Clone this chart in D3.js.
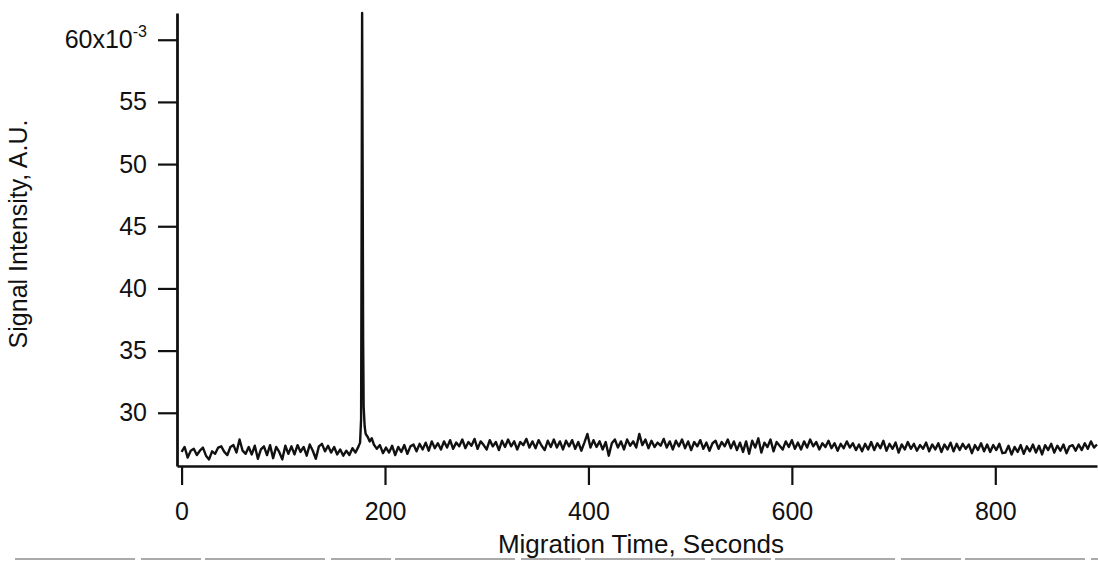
<!DOCTYPE html>
<html>
<head>
<meta charset="utf-8">
<script src="https://cdn.jsdelivr.net/npm/d3@7"></script>
<style>
  html, body { margin: 0; padding: 0; background: #fff; }
  svg { display: block; }
  text { font-family: "Liberation Sans", Arial, Helvetica, sans-serif; fill: #111; }
</style>
</head>
<body>
<svg id="chart" width="1098" height="561"></svg>
<script>
// Migration time (s)
const times = [
0,3,6,9,12,15,18,21,24,27,30,33,36,39,42,45,48,51,54,57,60,63,66,69,72,75,78,81,84,87,90,93,96,99,
102,105,108,111,114,117,120,123,126,129,132,135,138,141,144,147,150,153,156,159,162,165,168,171,174,
175.5,176.5,177,177.5,178,178.5,179,180,181,183,185,187,189,
192,195,198,201,204,207,210,213,216,219,222,225,228,231,234,237,240,243,246,249,
252,255,258,261,264,267,270,273,276,279,282,285,288,291,294,297,300,303,306,309,
312,315,318,321,324,327,330,333,336,339,342,345,348,351,354,357,360,363,366,369,
372,375,378,381,384,387,390,393,396,399,402,405,408,411,414,417,420,423,426,429,
432,435,438,441,444,447,450,453,456,459,462,465,468,471,474,477,480,483,486,489,
492,495,498,501,504,507,510,513,516,519,522,525,528,531,534,537,540,543,546,549,
552,555,558,561,564,567,570,573,576,579,582,585,588,591,594,597,600,603,606,609,
612,615,618,621,624,627,630,633,636,639,642,645,648,651,654,657,660,663,666,669,
672,675,678,681,684,687,690,693,696,699,702,705,708,711,714,717,720,723,726,729,
732,735,738,741,744,747,750,753,756,759,762,765,768,771,774,777,780,783,786,789,
792,795,798,801,804,807,810,813,816,819,822,825,828,831,834,837,840,843,846,849,
852,855,858,861,864,867,870,873,876,879,882,885,888,891,894,897,900
];
// Signal intensity (x10^-3 A.U.)
const signal = [
26.85,27.25,26.40,26.95,27.10,26.60,26.95,27.20,26.55,26.25,26.90,26.70,27.20,27.30,26.85,26.60,27.25,27.40,26.80,27.85,26.95,26.70,27.25,26.65,27.35,26.30,27.05,27.30,26.60,27.40,26.35,27.25,26.85,26.25,
27.35,26.70,27.30,26.65,27.40,26.85,27.25,26.55,27.45,26.95,26.30,27.30,27.50,26.90,27.35,26.80,27.25,26.65,27.05,26.55,26.95,26.60,27.15,26.80,27.30,
27.60,29.50,45.00,62.15,50.00,36.00,30.50,28.90,28.30,28.05,27.70,27.95,27.45,
27.10,27.40,26.75,27.20,26.80,27.35,26.60,27.25,26.85,27.40,26.70,27.30,27.45,26.90,27.50,27.05,27.60,26.95,27.70,27.15,
27.55,27.05,27.70,27.20,27.80,27.10,27.60,27.30,27.85,27.15,27.65,27.35,27.90,27.10,27.70,27.40,27.05,27.80,27.30,27.65,
27.00,27.75,27.25,27.85,27.30,27.70,27.05,27.65,27.40,27.90,27.20,27.70,27.15,27.80,27.35,27.00,27.75,27.25,27.85,27.20,
27.70,27.05,27.75,27.30,27.80,27.10,27.65,26.95,27.60,28.30,27.20,27.80,27.25,27.70,27.05,27.65,26.55,27.55,27.85,27.20,
27.70,27.05,27.85,27.35,27.70,27.20,28.30,27.40,27.85,27.15,27.75,27.25,27.60,27.35,27.90,27.20,27.70,27.05,27.75,27.30,
27.85,27.15,27.70,27.00,27.65,27.30,27.80,27.10,27.60,26.95,27.55,27.75,27.10,27.65,27.30,27.85,27.15,27.70,27.00,27.60,
26.85,27.70,26.70,27.75,27.20,27.95,26.80,27.60,27.25,27.85,26.90,27.65,27.35,27.05,27.70,27.25,27.80,27.10,27.60,27.05,
27.70,27.20,27.85,27.30,27.65,27.05,27.55,27.25,27.75,27.15,27.55,26.95,27.50,27.15,27.70,27.20,27.55,27.00,27.45,26.90,
27.50,27.05,27.65,27.00,27.55,27.15,27.75,26.95,27.50,27.10,27.60,26.80,27.45,27.05,27.65,27.10,27.50,26.95,27.40,27.10,
27.60,26.90,27.45,27.05,27.55,26.85,27.45,27.05,27.60,26.90,27.50,27.00,27.50,27.10,27.45,26.75,27.40,27.00,27.55,26.90,
27.45,26.85,27.40,27.00,27.50,26.75,26.80,27.35,26.65,27.25,26.85,27.40,26.70,27.30,26.90,27.45,26.80,27.35,26.65,27.40,
27.00,27.50,26.80,27.35,26.95,27.45,26.75,27.30,27.40,26.95,27.45,27.00,27.55,27.10,27.70,27.20,27.45
];
const xTicks = [0, 200, 400, 600, 800];
const yTicks = [30, 35, 40, 45, 50, 55, 60];
const xTitle = "Migration Time, Seconds";
const yTitle = "Signal Intensity, A.U.";

const svg = d3.select("#chart");
const x = d3.scaleLinear().domain([-4.5, 900]).range([177, 1097]);
const y = d3.scaleLinear().domain([25.72, 62.15]).range([466, 13]);

const data = times.map((t, i) => [t, signal[i]]);

// trace
const line = d3.line().x(d => x(d[0])).y(d => y(d[1]));
svg.append("path")
  .datum(data)
  .attr("d", line)
  .attr("fill", "none")
  .attr("stroke", "#111")
  .attr("stroke-width", 2.4)
  .attr("stroke-linejoin", "round");

const font = "'Liberation Sans', Arial, sans-serif";

// x axis
const xAxis = d3.axisBottom(x).tickValues(xTicks).tickSize(19).tickPadding(17).tickSizeOuter(0);
const gx = svg.append("g").attr("transform", "translate(0,466)").call(xAxis);
gx.select(".domain").attr("stroke", "#111").attr("stroke-width", 2.4);
gx.selectAll(".tick line").attr("stroke", "#111").attr("stroke-width", 2.2);
gx.selectAll(".tick text").attr("font-size", 25).attr("fill", "#111").attr("font-family", font);

// y axis
const yAxis = d3.axisLeft(y).tickValues(yTicks).tickSize(19).tickPadding(11).tickSizeOuter(0)
  .tickFormat(d => d);
const gy = svg.append("g").attr("transform", "translate(177,0)").call(yAxis);
gy.select(".domain").attr("stroke", "#111").attr("stroke-width", 2.8);
gy.selectAll(".tick line").attr("stroke", "#111").attr("stroke-width", 2.2);
gy.selectAll(".tick text").attr("font-size", 25).attr("fill", "#111").attr("font-family", font);
// top tick label with exponent
gy.selectAll(".tick text").filter(d => d === 60).each(function() {
  const t = d3.select(this);
  t.text(null);
  t.append("tspan").text("60x10");
  t.append("tspan").attr("dy", -11).attr("font-size", 16).text("-3");
});

// axis titles
svg.append("text")
  .attr("x", 641).attr("y", 553)
  .attr("text-anchor", "middle")
  .attr("font-size", 26)
  .attr("font-family", font)
  .text(xTitle);
svg.append("text")
  .attr("transform", "translate(27,234) rotate(-90)")
  .attr("text-anchor", "middle")
  .attr("font-size", 25)
  .attr("font-family", font)
  .text(yTitle);

// faint scan edge at bottom
svg.append("line").attr("x1", 15).attr("x2", 1098).attr("y1", 559).attr("y2", 559)
  .attr("stroke", "#aaa").attr("stroke-width", 2).attr("stroke-dasharray", "120,6,60,4");
</script>
</body>
</html>
